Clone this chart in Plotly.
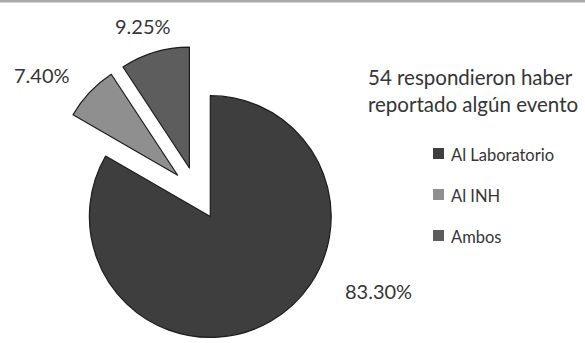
import plotly.graph_objects as go

# Survey results: where the reported events were notified
labels = ["Al Laboratorio", "Al INH", "Ambos"]
values = [83.30, 7.40, 9.25]
colors = ["#3e3e3e", "#8f8f8f", "#5d5d5d"]
title_lines = ["54 respondieron haber", "reportado algún evento"]

W, H = 585, 343
FONT = "Lato"
TEXT_COLOR = "#353535"


def px(x):
    return x / W


def py(y):
    return 1 - y / H


fig = go.Figure(
    go.Pie(
        labels=labels,
        values=values,
        sort=False,
        direction="clockwise",
        rotation=0,
        pull=[0.22] * len(values),
        marker=dict(colors=colors, line=dict(color="#1c1c1c", width=1.2)),
        textinfo="none",
        hoverinfo="label+value",
        showlegend=False,
        domain=dict(x=[px(49.5), px(344.5)], y=[py(341), py(46)]),
    )
)

annotations = []
shapes = []

# value labels placed beside each slice
label_pos = [(378, 291), (42, 75), (143, 26)]
for v, (x, y) in zip(values, label_pos):
    annotations.append(
        dict(text=f"{v:.2f}%", x=px(x), y=py(y), xref="paper", yref="paper",
             xanchor="center", yanchor="middle", showarrow=False,
             font=dict(family=FONT, size=20, color=TEXT_COLOR))
    )

# two-line heading over the legend
for i, line in enumerate(title_lines):
    annotations.append(
        dict(text=line, x=px(366), y=py(77 + 27 * i), xref="paper", yref="paper",
             xanchor="left", yanchor="middle", showarrow=False,
             font=dict(family=FONT, size=20.5, color=TEXT_COLOR))
    )

# legend entries: square swatch + label
for i, (lab, col) in enumerate(zip(labels, colors)):
    yc = 154 + 41 * i
    shapes.append(
        dict(type="rect", xref="paper", yref="paper",
             x0=px(433), x1=px(444), y0=py(yc + 5), y1=py(yc - 6),
             fillcolor=col, line=dict(width=0))
    )
    annotations.append(
        dict(text=lab, x=px(449), y=py(yc + 1), xref="paper", yref="paper",
             xanchor="left", yanchor="middle", showarrow=False,
             font=dict(family=FONT, size=16.5, color=TEXT_COLOR))
    )

# thin grey rule across the top
shapes.append(
    dict(type="rect", xref="paper", yref="paper", x0=0, x1=1,
         y0=py(2.5), y1=1, fillcolor="#a9a9a9", line=dict(width=0))
)

fig.update_layout(
    width=W,
    height=H,
    margin=dict(l=0, r=0, t=0, b=0),
    paper_bgcolor="white",
    plot_bgcolor="white",
    annotations=annotations,
    shapes=shapes,
)

fig.write_html("out.html")
